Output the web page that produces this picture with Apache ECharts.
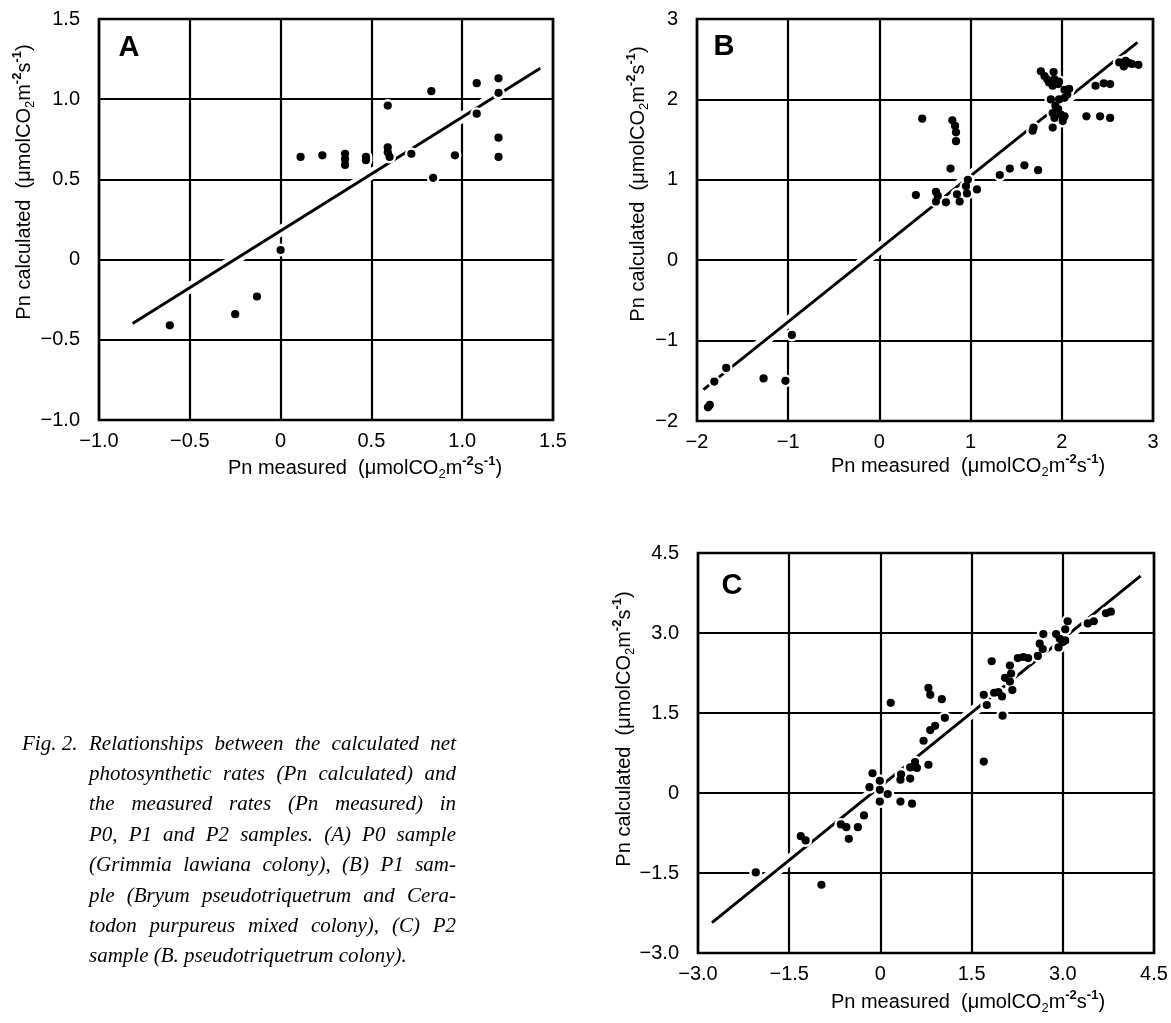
<!DOCTYPE html>
<html><head><meta charset="utf-8">
<script src="https://cdn.jsdelivr.net/npm/echarts@6/dist/echarts.min.js"></script>
<style>html,body{margin:0;padding:0;background:#fff}#c{width:1171px;height:1023px}</style>
</head><body><div id="c"></div>
<script>
// ---------- Panel A : P0 sample ----------
const aMeasured   = [-0.61,-0.25,-0.13,0.00,0.11,0.23,0.355,0.355,0.355,0.47,0.47,0.59,0.59,0.60,0.59,0.72,0.83,0.84,0.96,1.08,1.08,1.20,1.20,1.20,1.20];
const aCalculated = [-0.41,-0.34,-0.23,0.06,0.64,0.65,0.66,0.625,0.59,0.62,0.64,0.70,0.67,0.64,0.96,0.66,1.05,0.51,0.65,1.10,0.91,1.13,1.04,0.76,0.64];
const aLineX = [-0.815, 1.43];
const aLineY = [-0.398, 1.193];
const aTicks = [-1.0,-0.5,0,0.5,1.0,1.5];
const aTickLabels = ['\u22121.0','\u22120.5','0','0.5','1.0','1.5'];

// ---------- Panel B : P1 sample ----------
const bMeasured   = [-1.88,-1.86,-1.81,-1.68,-1.27,-1.03,-0.96,
  0.40,0.47,0.62,0.64,0.62,0.73,0.80,0.83,0.84,0.84,0.78,0.85,0.88,0.95,0.97,0.96,1.07,
  1.32,1.43,1.59,1.74,1.68,1.69,
  1.77,1.81,1.84,1.86,1.91,1.92,1.90,1.96,1.97,2.03,2.08,2.06,2.03,1.88,1.97,1.93,1.96,1.90,1.99,2.03,1.92,2.01,1.90,
  2.27,2.42,2.53,2.37,2.46,2.53,2.63,2.68,2.70,2.74,2.84,2.77];
const bCalculated = [-1.83,-1.80,-1.51,-1.34,-1.47,-1.50,-0.93,
  0.81,1.76,0.85,0.80,0.73,0.72,1.74,1.67,1.59,1.48,1.14,0.82,0.73,0.92,1.00,0.83,0.88,
  1.06,1.14,1.18,1.12,1.61,1.65,
  2.35,2.29,2.25,2.21,2.34,2.25,2.17,2.19,2.22,2.12,2.13,2.06,2.02,2.00,2.00,1.92,1.88,1.83,1.81,1.79,1.77,1.73,1.65,
  1.79,1.79,1.77,2.17,2.20,2.19,2.46,2.41,2.48,2.45,2.43,2.44];
const bLineX = [-1.93, 2.83];
const bLineY = [-1.61, 2.71];
const bTicks = [-2,-1,0,1,2,3];
const bTickLabels = ['\u22122','\u22121','0','1','2','3'];

// ---------- Panel C : P2 sample ----------
const cMeasured   = [-2.05,-0.97,-1.31,-1.23,-0.65,-0.56,-0.52,-0.37,-0.27,-0.18,-0.13,-0.01,-0.01,0.12,-0.01,0.33,0.52,0.34,0.33,0.49,0.49,0.55,0.57,0.60,0.79,0.71,0.82,0.90,1.06,0.17,0.79,0.82,1.01,
  1.70,1.70,1.75,1.83,1.87,1.94,2.00,2.01,2.05,2.13,2.13,2.17,2.15,2.26,2.35,2.43,2.59,2.62,2.67,2.68,2.89,2.95,2.93,3.00,3.04,3.04,3.08,3.41,3.51,3.71,3.79];
const cCalculated = [-1.49,-1.72,-0.81,-0.89,-0.59,-0.64,-0.86,-0.64,-0.42,0.11,0.37,0.23,0.06,-0.02,-0.16,-0.16,-0.20,0.35,0.25,0.27,0.48,0.50,0.58,0.47,0.53,0.98,1.18,1.26,1.41,1.69,1.97,1.84,1.76,
  0.59,1.84,1.65,2.47,1.88,1.89,1.81,1.45,2.16,2.09,2.39,1.93,2.24,2.53,2.55,2.53,2.57,2.80,2.70,2.98,2.98,2.89,2.73,2.83,2.86,3.07,3.22,3.18,3.22,3.37,3.40];
const cLineX = [-2.77, 4.28];
const cLineY = [-2.43, 4.07];
const cTicks = [-3.0,-1.5,0,1.5,3.0,4.5];
const cTickLabels = ['\u22123.0','\u22121.5','0','1.5','3.0','4.5'];

const panelLetters = ['A','B','C'];
const captionHead = 'Fig. 2.';
const captionLines = [
  'Relationships between the calculated net',
  'photosynthetic rates (Pn calculated) and',
  'the measured rates (Pn measured) in',
  'P0, P1 and P2 samples.  (A) P0 sample',
  '(Grimmia lawiana colony), (B) P1 sam-',
  'ple (Bryum pseudotriquetrum and Cera-',
  'todon purpureus mixed colony), (C) P2',
  'sample (B. pseudotriquetrum colony).'
];

// ---------- build ----------
const FONT = 'Liberation Sans';
const grids = [
  {left:99,  top:19,  width:454, height:401},
  {left:697, top:19,  width:456, height:402},
  {left:698, top:553, width:456, height:400}
];

function axisCfg(dim, gi, ticks, labels) {
  const step = ticks[1] - ticks[0];
  return {
    type:'value', gridIndex:gi, min:ticks[0], max:ticks[ticks.length-1], interval:step,
    axisLine:{show:false}, axisTick:{show:false},
    splitLine:{show:true, lineStyle:{color:'#000', width:2.2}},
    axisLabel:{
      color:'#000', fontSize:20, fontFamily:FONT, margin: dim === 'x' ? 11 : 19,
      hideOverlap:false, showMinLabel:true, showMaxLabel:true,
      formatter: v => { const k = Math.round((v - ticks[0]) / step); return labels[k] !== undefined ? labels[k] : ''; }
    }
  };
}

function seriesFor(gi, xs, ys, lx, ly) {
  const pts = xs.map((x,i) => [x, ys[i]]);
  const line = lx.map((x,i) => [x, ly[i]]);
  const base = {xAxisIndex:gi, yAxisIndex:gi, silent:true, animation:false};
  return [
    Object.assign({type:'line', data:line, showSymbol:false, symbol:'none', lineStyle:{color:'#fff', width:11}, z:2}, base),
    Object.assign({type:'line', data:line, showSymbol:false, symbol:'none', lineStyle:{color:'#000', width:2.9}, z:3}, base),
    Object.assign({type:'scatter', data:pts, symbolSize:13, itemStyle:{color:'#fff', opacity:1}, z:4}, base),
    Object.assign({type:'scatter', data:pts, symbolSize:8.2, itemStyle:{color:'#000', opacity:1}, z:5}, base)
  ];
}

const rich = {
  t:{fontSize:20, fontFamily:FONT, lineHeight:26, fill:'#000', verticalAlign:'middle'},
  sb:{fontSize:13, fontFamily:FONT, lineHeight:12, fill:'#000', verticalAlign:'bottom'},
  sp:{fontSize:13, fontFamily:FONT, fontWeight:'bold', lineHeight:12, fill:'#000', verticalAlign:'top'}
};
const unitTail = '  (\u03bcmolCO}{sb|2}{t|m}{sp|-2}{t|s}{sp|-1}{t|)}';
function titleEl(txt, x, y, rot) {
  return {type:'text', x:x, y:y, rotation:rot, silent:true, z:10,
    style:{text:'{t|' + txt + unitTail, rich:rich, align:'center', verticalAlign:'middle', textAlign:'center', textVerticalAlign:'middle'}};
}

const graphics = [
  titleEl('Pn measured', 365, 468, 0),
  titleEl('Pn measured', 968, 466, 0),
  titleEl('Pn measured', 968, 1002, 0),
  titleEl('Pn calculated', 24, 182, Math.PI/2),
  titleEl('Pn calculated', 638, 184, Math.PI/2),
  titleEl('Pn calculated', 624, 729, Math.PI/2)
];
const letterPos = [[129,48],[724,47],[732,586]];
panelLetters.forEach((L,i) => graphics.push({type:'text', x:letterPos[i][0], y:letterPos[i][1], silent:true, z:10,
  style:{text:L, font:'bold 29px "Liberation Sans"', fill:'#000', align:'center', verticalAlign:'middle', textAlign:'center', textVerticalAlign:'middle'}}));

// caption, justified
const capFont = 'italic 21px "Liberation Serif"';
const ctx = document.createElement('canvas').getContext('2d');
ctx.font = capFont;
function capText(t, x, y) {
  return {type:'text', x:x, y:y, silent:true, z:10,
    style:{text:t, font:capFont, fill:'#000', align:'left', verticalAlign:'middle', textAlign:'left', textVerticalAlign:'middle'}};
}
graphics.push(capText(captionHead, 22, 744));
const capLeft = 89, capRight = 456;
captionLines.forEach((ln, i) => {
  const y = 744 + i * 30.4;
  if (i === captionLines.length - 1) { graphics.push(capText(ln, capLeft, y)); return; }
  const words = ln.split(/\s+/);
  const widths = words.map(w => ctx.measureText(w).width);
  const total = widths.reduce((a,b) => a + b, 0);
  const gap = (capRight - capLeft - total) / (words.length - 1);
  let x = capLeft;
  words.forEach((w, k) => { graphics.push(capText(w, x, y)); x += widths[k] + gap; });
});

const option = {
  backgroundColor:'#fff',
  animation:false,
  grid: grids.map(g => Object.assign({show:true, borderColor:'#000', borderWidth:2.6, backgroundColor:'transparent', containLabel:false}, g)),
  xAxis: [axisCfg('x',0,aTicks,aTickLabels), axisCfg('x',1,bTicks,bTickLabels), axisCfg('x',2,cTicks,cTickLabels)],
  yAxis: [axisCfg('y',0,aTicks,aTickLabels), axisCfg('y',1,bTicks,bTickLabels), axisCfg('y',2,cTicks,cTickLabels)],
  series: [].concat(
    seriesFor(0, aMeasured, aCalculated, aLineX, aLineY),
    seriesFor(1, bMeasured, bCalculated, bLineX, bLineY),
    seriesFor(2, cMeasured, cCalculated, cLineX, cLineY)
  ),
  graphic: graphics
};
const chart = echarts.init(document.getElementById('c'), null, {renderer:'canvas'});
chart.setOption(option);
</script>
</body></html>
